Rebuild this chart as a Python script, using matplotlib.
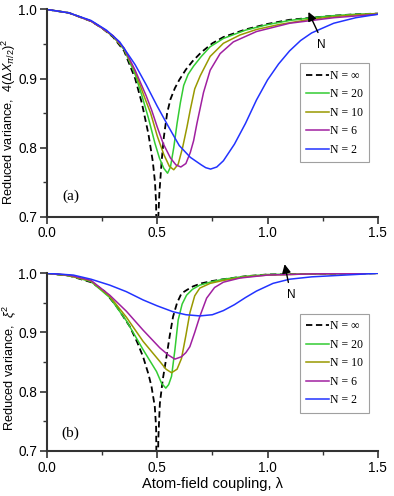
import matplotlib
matplotlib.use('Agg')
import matplotlib.pyplot as plt
from matplotlib.ticker import MultipleLocator

plt.rcParams['font.family'] = ['Liberation Sans', 'DejaVu Sans']
plt.rcParams['mathtext.fontset'] = 'custom'
plt.rcParams['mathtext.rm'] = 'Liberation Sans'
plt.rcParams['mathtext.it'] = 'Liberation Sans:italic'

# ---- panel (a): 4(dX_pi/2)^2 ----
lam_inf_a = [0, .1, .2, .25, .3, .35, .4, .43, .46, .48, .49, .495, .5, .505, .51, .52, .53, .545,
             .56, .58, .6, .63, .66, .7, .75, .8, .9, 1.0, 1.1, 1.2, 1.3, 1.4, 1.5]
var_inf_a = [1, .995, .983, .973, .96, .94, .9, .865, .82, .78, .75, .72, .55, .7, .735, .78, .815, .85,
             .87, .886, .898, .913, .925, .938, .951, .96, .971, .979, .985, .988, .991, .993, .994]

lam_20_a = [0, .1, .2, .25, .3, .35, .4, .43, .46, .49, .51, .53, .547, .56, .575, .59, .605, .62,
            .64, .665, .7, .74, .8, .9, 1.0, 1.1, 1.2, 1.3, 1.4, 1.5]
var_20_a = [1, .995, .983, .973, .961, .942, .906, .876, .843, .806, .785, .77, .763, .772, .8, .835, .865, .89,
            .906, .918, .932, .946, .958, .970, .978, .984, .988, .991, .993, .994]

lam_10_a = [0, .1, .2, .25, .3, .35, .4, .44, .47, .5, .53, .555, .575, .595, .615, .635, .65, .67,
            .695, .74, .8, .875, .95, 1.05, 1.2, 1.35, 1.5]
var_10_a = [1, .995, .983, .973, .961, .943, .91, .875, .85, .817, .79, .773, .768, .776, .8, .83, .855, .885,
            .904, .932, .951, .963, .971, .978, .986, .991, .994]

lam_6_a = [0, .1, .2, .25, .3, .35, .4, .45, .475, .5, .527, .56, .585, .607, .63, .65, .665, .68,
           .71, .74, .785, .845, .95, 1.1, 1.3, 1.5]
var_6_a = [1, .995, .983, .973, .962, .944, .912, .875, .854, .83, .806, .785, .775, .772, .777, .793, .81, .835,
           .88, .912, .936, .953, .968, .98, .988, .993]

lam_2_a = [0, .1, .2, .27, .33, .4, .45, .5, .55, .6, .65, .7, .72, .742, .77, .8, .85, .9, .95, 1.0, 1.05,
           1.1, 1.15, 1.2, 1.3, 1.4, 1.5]
var_2_a = [1, .995, .984, .97, .953, .92, .891, .86, .831, .803, .786, .775, .771, .769, .772, .781, .805, .835,
           .869, .898, .921, .94, .955, .966, .98, .988, .993]

# ---- panel (b): xi^2 ----
lam_inf_b = [0, .1, .2, .26, .316, .376, .41, .436, .46, .474, .489, .495, .5, .505, .512, .525, .542, .557,
             .572, .59, .61, .635, .663, .7, .75, .8, .9, 1.0, 1.2, 1.5]
var_inf_b = [1, .996, .985, .97, .944, .91, .883, .859, .83, .809, .775, .74, .55, .72, .78, .82, .859, .895,
             .927, .95, .966, .972, .978, .983, .987, .99, .995, .998, .999, 1.0]

lam_20_b = [0, .1, .2, .285, .36, .436, .497, .52, .539, .552, .565, .58, .595, .613, .633, .66, .693,
            .75, .8, .9, 1.0, 1.2, 1.5]
var_20_b = [1, .996, .986, .959, .92, .871, .834, .814, .806, .812, .826, .87, .921, .948, .963, .973, .98,
            .986, .99, .995, .998, .999, 1.0]

lam_10_b = [0, .1, .2, .285, .36, .436, .512, .54, .565, .59, .61, .63, .648, .67, .693, .74, .8, .9,
            1.0, 1.2, 1.5]
var_10_b = [1, .996, .987, .961, .926, .885, .851, .838, .832, .838, .856, .895, .933, .962, .975, .983, .988, .994,
            .997, .999, 1.0]

lam_6_b = [0, .1, .2, .285, .36, .436, .512, .55, .58, .61, .63, .648, .67, .693, .724, .76, .8, .875,
           1.0, 1.2, 1.5]
var_6_b = [1, .997, .988, .963, .936, .904, .874, .862, .855, .859, .866, .876, .9, .927, .958, .976, .985, .992,
           .997, .999, 1.0]

lam_2_b = [0, .12, .2, .285, .36, .436, .5, .572, .63, .693, .75, .8, .85, .9, .95, 1.025, 1.1, 1.2,
           1.3, 1.4, 1.5]
var_2_b = [1, .997, .99, .98, .969, .955, .945, .935, .93, .928, .93, .937, .947, .959, .97, .983, .99, .994,
           .996, .998, 1.0]

labels = ['N = \u221e', 'N = 20', 'N = 10', 'N = 6', 'N = 2']
colors = ['black', '#33cc33', '#999900', '#a020a0', '#2233ff']

panels = [
    ([(lam_inf_a, var_inf_a), (lam_20_a, var_20_a), (lam_10_a, var_10_a), (lam_6_a, var_6_a), (lam_2_a, var_2_a)],
     r'Reduced variance,  $4(\Delta X_{\pi/2})^2$', '(a)', (1.18, 1.0), (1.234, 0.963), (1.245, 0.949)),
    ([(lam_inf_b, var_inf_b), (lam_20_b, var_20_b), (lam_10_b, var_10_b), (lam_6_b, var_6_b), (lam_2_b, var_2_b)],
     r'Reduced variance,  $\xi^2$', '(b)', (1.075, 1.02), (1.097, 0.98), (1.109, 0.964)),
]
boxes = [[0.119, 0.563, 0.840, 0.418], [0.119, 0.091, 0.840, 0.358]]
legend_pos = [(0.764, 0.74), (0.764, 0.771)]
label_y = [0.46, 0.47]

fig = plt.figure(figsize=(3.94, 4.96), dpi=100)

for i, (curves, ylab, tag, tip, tail, npos) in enumerate(panels):
    ax = fig.add_axes(boxes[i])
    for j, (lx, vy) in enumerate(curves):
        if j == 0:
            ax.plot(lx, vy, '--', color=colors[j], lw=1.3, dashes=(3.5, 2), label=labels[j])
        else:
            ax.plot(lx, vy, '-', color=colors[j], lw=1.1, label=labels[j])
    ax.set_xlim(0, 1.5)
    ax.set_ylim(0.7, 1.0)
    ax.xaxis.set_major_locator(MultipleLocator(0.5))
    ax.xaxis.set_minor_locator(MultipleLocator(0.25))
    ax.yaxis.set_major_locator(MultipleLocator(0.1))
    ax.yaxis.set_minor_locator(MultipleLocator(0.05))
    ax.xaxis.set_major_formatter(plt.FormatStrFormatter('%.1f'))
    ax.yaxis.set_major_formatter(plt.FormatStrFormatter('%.1f'))
    for s in ['top', 'right']:
        ax.spines[s].set_visible(False)
    for s in ['left', 'bottom']:
        ax.spines[s].set_linewidth(1.5)
        ax.spines[s].set_color('#333333')
    ax.tick_params(which='major', direction='out', length=5, width=1.2, labelsize=9.8, color='#333333', pad=2)
    ax.tick_params(which='minor', direction='out', length=3, width=1.0, color='#333333')
    ax.set_ylabel(ylab, fontsize=9.2)
    ax.yaxis.set_label_coords(-0.086, label_y[i])
    ax.text(0.107, 0.73, tag, fontsize=11, family='Liberation Serif', ha='center', va='center')
    ax.annotate('', xy=tip, xytext=tail, annotation_clip=False,
                arrowprops=dict(arrowstyle='-|>', color='black', lw=1.0, mutation_scale=13))
    ax.text(npos[0], npos[1], 'N', fontsize=8.5, ha='center', va='center')
    leg = ax.legend(loc='upper left', bbox_to_anchor=legend_pos[i],
                    prop={'family': 'Liberation Serif', 'size': 8.5},
                    frameon=True, fancybox=False, edgecolor='#888888', handlelength=1.9,
                    handletextpad=0.1, borderpad=0.55, labelspacing=0.55, borderaxespad=0)
    leg.get_frame().set_linewidth(0.8)
    if i == 1:
        ax.set_xlabel('Atom-field coupling, \u03bb', fontsize=10.5, labelpad=2)

fig.savefig('out.png', dpi=100)
